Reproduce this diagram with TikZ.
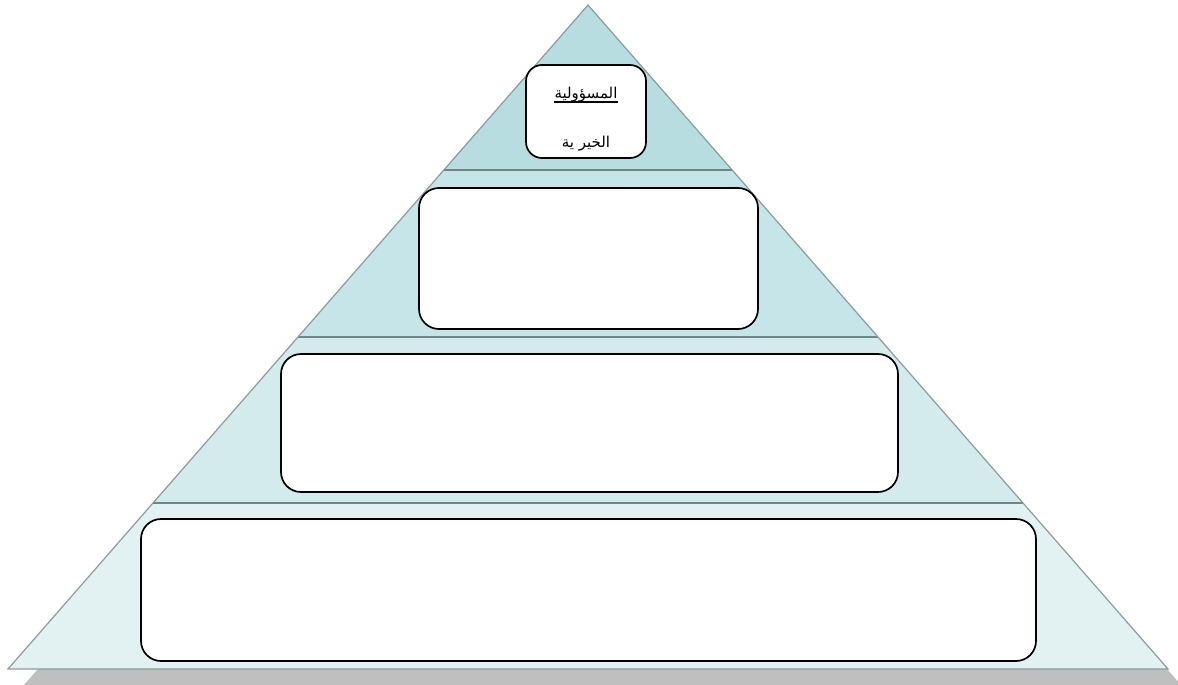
\documentclass[tikz,border=0pt]{standalone}
\usepackage{fontspec}
\newfontfamily\arabicfont[Script=Arabic]{DejaVu Sans}
\TeXXeTstate=1
\definecolor{layerA}{HTML}{B7DDE0}
\definecolor{layerB}{HTML}{C6E5E8}
\definecolor{layerC}{HTML}{D4EBED}
\definecolor{layerD}{HTML}{E2F2F3}
\definecolor{edgegray}{HTML}{8A9C9E}
\definecolor{divgray}{HTML}{6F8587}
\definecolor{shadowgray}{HTML}{BFBFBF}
\begin{document}
\begin{tikzpicture}[x=1pt,y=-1pt,
  levelbox/.style={draw=black,line width=1.7pt,fill=white,rounded corners=20pt,inner sep=0pt},
  artext/.style={inner sep=0pt,font=\arabicfont\fontsize{15}{18}\selectfont}]
\useasboundingbox (0,0) rectangle (1178,685);
% apex and base corners
\coordinate (apex) at (588,5);
\coordinate (bl) at (8,669);
\coordinate (br) at (1168,669);
% shadow
\fill[shadowgray] ([shift={(14.5,17.7)}]apex) -- ([shift={(14.5,17.7)}]bl) -- ([shift={(14.5,17.7)}]br) -- cycle;
% layers
\begin{scope}
  \clip (apex) -- (bl) -- (br) -- cycle;
  \fill[layerA] (0,0) rectangle (1178,170);
  \fill[layerB] (0,170) rectangle (1178,337);
  \fill[layerC] (0,337) rectangle (1178,503);
  \fill[layerD] (0,503) rectangle (1178,669);
  \draw[divgray,line width=1.6pt] (0,170) -- (1178,170);
  \draw[divgray,line width=1.6pt] (0,337) -- (1178,337);
  \draw[divgray,line width=1.6pt] (0,503) -- (1178,503);
\end{scope}
\draw[edgegray,line width=1.2pt,line join=miter] (apex) -- (bl) -- (br) -- cycle;
% boxes
\node[levelbox,rounded corners=16pt,minimum width=120pt,minimum height=93pt] (b1) at (586,111.5) {};
\node[levelbox,minimum width=339pt,minimum height=141pt] (b2) at (588.5,258.5) {};
\node[levelbox,minimum width=617pt,minimum height=138pt] (b3) at (589.5,423) {};
\node[levelbox,minimum width=895pt,minimum height=142pt] (b4) at (588.5,590) {};
% texts
\node[artext,anchor=base] (t1) at (586,98) {\beginR المسؤولية\endR};
\draw[black,line width=1.1pt] ([yshift=-4pt]t1.base west) -- ([yshift=-4pt]t1.base east);
\node[artext,anchor=base] (t2) at (586,147) {\beginR الخير ية\endR};
\end{tikzpicture}
\end{document}
